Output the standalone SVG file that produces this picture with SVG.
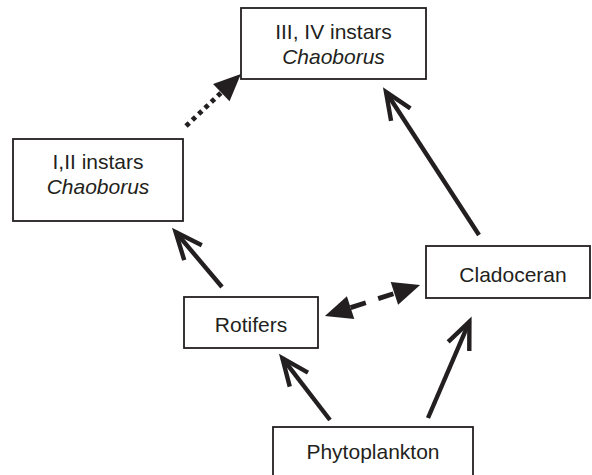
<svg xmlns="http://www.w3.org/2000/svg" width="592" height="475" viewBox="0 0 592 475">
<defs>
<style>
.box{fill:#fff;stroke:#231f20;stroke-width:1.8}
.lbl{font-family:"Liberation Sans",Arial,sans-serif;font-size:21px;fill:#231f20;text-anchor:middle}
.it{font-style:italic}
.solid{stroke:#231f20;stroke-width:4.4;fill:none;marker-end:url(#vhead)}
.dash{stroke:#231f20;stroke-width:4.8;fill:none;stroke-dasharray:16 13}
.dot{stroke:#231f20;stroke-width:4.8;fill:none;stroke-dasharray:4.5 4.2}
</style>
<marker id="vhead" markerUnits="userSpaceOnUse" orient="auto" refX="0" refY="0" markerWidth="60" markerHeight="60" viewBox="-40 -30 60 60" overflow="visible">
<path d="M-27,-11.5 L0,0 L-27,11.5" fill="none" stroke="#231f20" stroke-width="4.4" stroke-linejoin="miter" stroke-miterlimit="10"/>
</marker>
<marker id="tri" markerUnits="userSpaceOnUse" orient="auto-start-reverse" refX="0" refY="0" markerWidth="60" markerHeight="60" viewBox="-30 -30 60 60" overflow="visible">
<path d="M0,-12 L27,0 L0,12 Z" fill="#231f20"/>
</marker>
</defs>

<g id="connectors">
<line class="solid" x1="479" y1="235" x2="386" y2="92"/>
<line class="solid" x1="222" y1="287" x2="175.6" y2="232"/>
<line class="solid" x1="330" y1="420" x2="282.4" y2="358.2"/>
<line class="solid" x1="428" y1="418" x2="469.4" y2="321.7"/>
<line class="dash" x1="350.6" y1="307.6" x2="394.4" y2="293.4" marker-start="url(#tri)" marker-end="url(#tri)"/>
<line class="dot" x1="186" y1="126" x2="221.3" y2="92.6" marker-end="url(#tri)"/>
</g>

<g id="node-iii-iv">
<rect class="box" x="241" y="8" width="185" height="71"/>
<text class="lbl" x="333.5" y="39">III, IV instars</text>
<text class="lbl it" x="333.5" y="64">Chaoborus</text>
</g>

<g id="node-i-ii">
<rect class="box" x="13" y="139" width="170" height="82"/>
<text class="lbl" x="98" y="169">I,II instars</text>
<text class="lbl it" x="98" y="194">Chaoborus</text>
</g>

<g id="node-rotifers">
<rect class="box" x="184" y="297" width="134" height="51"/>
<text class="lbl" x="251" y="331.5">Rotifers</text>
</g>

<g id="node-cladoceran">
<rect class="box" x="426" y="246" width="164" height="52"/>
<text class="lbl" x="513" y="281.5">Cladoceran</text>
</g>

<g id="node-phytoplankton">
<rect class="box" x="273" y="427" width="200" height="60"/>
<text class="lbl" x="373" y="459">Phytoplankton</text>
</g>
</svg>
